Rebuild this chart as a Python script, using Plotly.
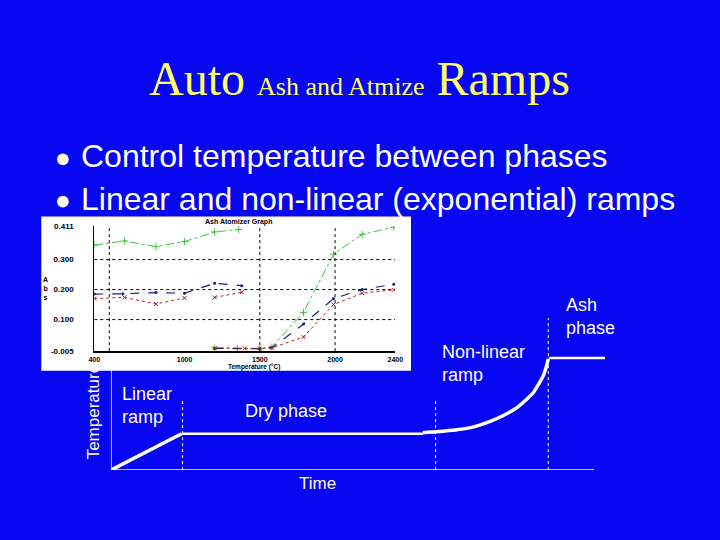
import plotly.graph_objects as go

# =====================================================
# Data
# =====================================================

# main schematic: time (0-100) vs temperature (0-100), arbitrary units
RAMP_TIME = [0, 14.3]
RAMP_TEMP = [0, 20.1]

DRY_TIME = [14.3, 63.1]
DRY_TEMP = [20.1, 20.1]

NONLIN_TIME = [63.1, 65.7, 70.0, 73.4, 77.0, 80.0, 82.3, 83.9, 85.5, 86.5, 87.5, 88.1, 88.5]
NONLIN_TEMP = [20.7, 21.2, 22.3, 23.9, 27.2, 31.0, 34.8, 38.6, 42.9, 47.3, 52.2, 57.1, 61.4]

ASH_TIME = [88.6, 100]
ASH_TEMP = [62.0, 62.0]

PHASE_BOUNDS = [14.5, 65.7, 88.5]

# inset: Ash Atomizer Graph
GREEN_X = [400, 600, 810, 1000, 1200, 1360, None,
           1200, 1350, 1500, 1580, 1790, 1990, 2180, 2390]
GREEN_Y = [0.348, 0.362, 0.343, 0.360, 0.392, 0.400, None,
           0.006, 0.005, 0.003, 0.009, 0.124, 0.318, 0.384, 0.408]

NAVY_X = [400, 590, 810, 1000, 1200, 1380, None,
          1200, 1500, 1580, 1790, 1990, 2180, 2390]
NAVY_Y = [0.185, 0.186, 0.190, 0.188, 0.221, 0.213, None,
          0.004, 0.003, 0.006, 0.085, 0.170, 0.200, 0.218]

RED_X = [400, 600, 810, 1000, None, 1200, 1380, None,
         1200, 1400, 1500, 1580, 1790, 1990, 2180, 2390]
RED_Y = [0.170, 0.174, 0.152, 0.172, None, 0.174, 0.191, None,
         0.005, 0.004, 0.004, 0.006, 0.042, 0.150, 0.188, 0.199]

INSET_XTICKS = [400, 1000, 1500, 2000, 2400]
INSET_YTICKS = [-0.005, 0.100, 0.200, 0.300, 0.411]
INSET_YTICK_LABELS = ["-0.005", "0.100", "0.200", "0.300", "0.411"]
INSET_HGRID = [0.1, 0.2, 0.3]
INSET_VGRID = [500, 1500, 2000]

# =====================================================
# Helpers
# =====================================================

W, H = 720, 540
BG = "#0606f0"
FONT = "Liberation Sans"


def px(x):
    return x / W


def py(y):
    return 1 - y / H


fig = go.Figure()

# =====================================================
# Main schematic
# =====================================================

for t, temp, w in [
    (RAMP_TIME, RAMP_TEMP, 3.5),
    (DRY_TIME, DRY_TEMP, 2.5),
    (NONLIN_TIME, NONLIN_TEMP, 3.5),
    (ASH_TIME, ASH_TEMP, 2.5),
]:
    fig.add_trace(go.Scatter(
        x=t, y=temp, mode="lines",
        line=dict(color="white", width=w, shape="spline", smoothing=0.6),
        xaxis="x", yaxis="y", hoverinfo="skip"
    ))

shapes = []

# axis lines of schematic
shapes.append(dict(type="line", xref="x", yref="y", x0=0, x1=97.8, y0=0, y1=0,
                   line=dict(color="white", width=1.5)))
shapes.append(dict(type="line", xref="x", yref="y", x0=0, x1=0, y0=0, y1=56,
                   line=dict(color="white", width=1.5)))

for b, top in zip(PHASE_BOUNDS, [39, 38.5, 84]):
    shapes.append(dict(type="line", xref="x", yref="y", x0=b, x1=b, y0=0, y1=top,
                       line=dict(color="white", width=1, dash="dot")))

# =====================================================
# Inset graph
# =====================================================

shapes.append(dict(type="rect", xref="paper", yref="paper", layer="below",
                   x0=px(36), x1=px(413), y0=py(373), y1=py(216),
                   fillcolor="white", line=dict(width=0)))

for g in INSET_HGRID:
    shapes.append(dict(type="line", xref="x2", yref="y2", x0=400, x1=2400, y0=g, y1=g,
                       line=dict(color="black", width=1, dash="3px,3px")))
for g in INSET_VGRID:
    shapes.append(dict(type="line", xref="x2", yref="y2", x0=g, x1=g, y0=-0.005, y1=0.411,
                       line=dict(color="black", width=1, dash="dot")))

fig.add_trace(go.Scatter(
    x=GREEN_X, y=GREEN_Y, mode="lines+markers", connectgaps=False,
    line=dict(color="#3cc83c", width=1, dash="dashdot"),
    marker=dict(symbol="cross-thin", size=5, line=dict(color="#3cc83c", width=1)),
    xaxis="x2", yaxis="y2", hoverinfo="skip"
))
fig.add_trace(go.Scatter(
    x=NAVY_X, y=NAVY_Y, mode="lines+markers", connectgaps=False,
    line=dict(color="#1c1c80", width=1.2, dash="dash"),
    marker=dict(symbol="circle", size=3, color="#1c1c80"),
    xaxis="x2", yaxis="y2", hoverinfo="skip"
))
fig.add_trace(go.Scatter(
    x=RED_X, y=RED_Y, mode="lines+markers", connectgaps=False,
    line=dict(color="#b02828", width=1, dash="dot"),
    marker=dict(symbol="x-thin", size=4, line=dict(color="#b02828", width=1)),
    xaxis="x2", yaxis="y2", hoverinfo="skip"
))

# =====================================================
# Text
# =====================================================

annotations = [
    dict(text="Auto <span style='font-size:26px'>Ash and Atmize</span> Ramps",
         x=px(361), y=py(76), font=dict(family="Liberation Serif", size=48, color="#ffff66")),
    dict(text="Control temperature between phases", x=px(74), y=py(155), xanchor="left",
         font=dict(family=FONT, size=32, color="white")),
    dict(text="Linear and non-linear (exponential) ramps", x=px(74), y=py(198), xanchor="left",
         font=dict(family=FONT, size=32, color="white")),
    dict(text="Linear<br>ramp", x=px(116), y=py(408), xanchor="left", align="left",
         font=dict(family=FONT, size=18, color="white")),
    dict(text="Dry phase", x=px(242), y=py(414), xanchor="left",
         font=dict(family=FONT, size=18, color="white")),
    dict(text="Non-linear<br>ramp", x=px(443), y=py(366), xanchor="left", align="left",
         font=dict(family=FONT, size=18, color="white")),
    dict(text="Ash<br>phase", x=px(569), y=py(318), xanchor="left", align="left",
         font=dict(family=FONT, size=18, color="white")),
    dict(text="Time", x=px(318), y=py(488),
         font=dict(family=FONT, size=17, color="white")),
    dict(text="Temperature", x=px(89), y=py(415), textangle=-90,
         font=dict(family=FONT, size=17, color="white")),
    # inset texts
    dict(text="<b>Ash Atomizer Graph</b>", x=px(237), y=py(222),
         font=dict(family=FONT, size=7, color="black")),
    dict(text="<b>Temperature (°C)</b>", x=px(253), y=py(369.5),
         font=dict(family=FONT, size=6.5, color="black")),
    dict(text="<b>A<br>b<br>s</b>", x=px(40), y=py(289),
         font=dict(family=FONT, size=7, color="black")),
]
for a in annotations:
    a.setdefault("xref", "paper")
    a.setdefault("yref", "paper")
    a.setdefault("xanchor", "center")
    a.setdefault("yanchor", "middle")
    a.setdefault("showarrow", False)

for yb in [158, 201]:
    shapes.append(dict(type="circle", xref="paper", yref="paper",
                       x0=px(52), x1=px(64), y0=py(yb + 6), y1=py(yb - 6),
                       fillcolor="white", line=dict(width=0)))

# =====================================================
# Layout
# =====================================================

fig.update_layout(
    width=W, height=H,
    margin=dict(l=0, r=0, t=0, b=0),
    paper_bgcolor=BG,
    plot_bgcolor="rgba(0,0,0,0)",
    showlegend=False,
    xaxis=dict(domain=[px(107), px(611)], range=[0, 100], visible=False),
    yaxis=dict(domain=[py(474), py(290)], range=[0, 100], visible=False),
    xaxis2=dict(
        domain=[px(90), px(397)], range=[400, 2400], anchor="y2",
        tickvals=INSET_XTICKS, ticktext=[f"<b>{v}</b>" for v in INSET_XTICKS],
        ticks="", showgrid=False, zeroline=False,
        showline=True, linecolor="black", linewidth=2,
        tickfont=dict(family=FONT, size=7, color="black"), ticklabelstandoff=0
    ),
    yaxis2=dict(
        domain=[py(353), py(226)], range=[-0.005, 0.411], anchor="x2",
        tickvals=INSET_YTICKS, ticktext=[f"<b>{s}</b>" for s in INSET_YTICK_LABELS],
        ticks="", showgrid=False, zeroline=False,
        showline=True, linecolor="black", linewidth=1,
        tickfont=dict(family=FONT, size=8, color="black"), ticklabelstandoff=18
    ),
    shapes=shapes,
    annotations=annotations,
)

fig.write_html(
    "out.html",
    config={"displayModeBar": False},
    post_script="document.body.style.margin='0';document.documentElement.style.overflow='hidden';"
)
